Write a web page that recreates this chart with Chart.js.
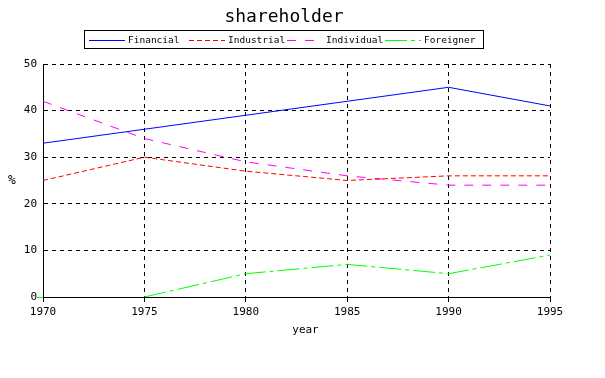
<!DOCTYPE html>
<html>
<head>
<meta charset="utf-8">
<script src="https://cdn.jsdelivr.net/npm/chart.js@4"></script>
<style>
  html, body { margin: 0; padding: 0; background: #fff; }
  #wrap { width: 605px; height: 378px; }
</style>
</head>
<body>
<div id="wrap"><canvas id="grafico" width="605" height="378"></canvas></div>
<script>
// dados
const anos = ["1970", "1975", "1980", "1985", "1990", "1995"];
const financial  = [33, 36, 39, 42, 45, 41];
const industrial = [25, 30, 27, 25, 26, 26];
const individual = [42, 34, 29, 26, 24, 24];
const foreigner  = [null, 0, 5, 7, 5, 9];
const yTicks = [0, 10, 20, 30, 40, 50];

const fonte = "'DejaVu Sans Mono', 'Liberation Mono', monospace";

// titulo, legenda com caixa e nomes dos eixos
const extras = {
    id: "extras",
    afterDraw(chart) {
        const c = chart.ctx;
        const area = chart.chartArea;
        c.save();
        c.fillStyle = "#000";
        c.textBaseline = "middle";

        c.font = "18px " + fonte;
        c.textAlign = "center";
        c.fillText("shareholder", 284, 17);

        // caixa da legenda
        c.strokeStyle = "#000";
        c.lineWidth = 1;
        c.setLineDash([]);
        c.strokeRect(84.5, 30.5, 399, 18);

        const pos = [89, 189, 287, 385];
        c.font = "9.5px " + fonte;
        c.textAlign = "left";
        chart.data.datasets.forEach((ds, i) => {
            const x = pos[i];
            c.beginPath();
            c.strokeStyle = ds.borderColor;
            c.setLineDash(ds.borderDash || []);
            c.moveTo(x, 40.5);
            c.lineTo(x + 36, 40.5);
            c.stroke();
            c.fillStyle = "#000";
            c.fillText(ds.label, x + 39, 41);
        });

        // eixo x passa um pouco a esquerda do eixo y
        c.setLineDash([]);
        c.beginPath();
        c.moveTo(37, area.bottom + 0.5);
        c.lineTo(area.left, area.bottom + 0.5);
        c.stroke();

        c.font = "13px " + fonte;
        c.textAlign = "center";
        c.fillText("%", 12, 181);
        c.font = "11px " + fonte;
        c.fillText("year", (area.left + area.right) / 2 + 9, 330);
        c.restore();
    }
};

new Chart(document.getElementById("grafico").getContext("2d"), {
    type: "line",
    data: {
        labels: anos,
        datasets: [
            { label: "Financial",  data: financial,  borderColor: "#0000ff", borderDash: [] },
            { label: "Industrial", data: industrial, borderColor: "#ff0000", borderDash: [5, 3] },
            { label: "Individual", data: individual, borderColor: "#ff00ff", borderDash: [9, 9] },
            { label: "Foreigner",  data: foreigner,  borderColor: "#00ff00", borderDash: [22, 4, 4, 4] }
        ].map(ds => Object.assign(ds, {
            borderWidth: 1,
            pointRadius: 0,
            fill: false,
            tension: 0,
            spanGaps: false
        }))
    },
    options: {
        responsive: false,
        animation: false,
        layout: { padding: { left: 0, top: 64, right: 55, bottom: 0 } },
        plugins: {
            legend: { display: false },
            title: { display: false },
            tooltip: { enabled: false }
        },
        scales: {
            x: {
                offset: false,
                afterFit: s => { s.height = 81; },
                grid: { color: "#000", drawTicks: true, tickLength: 5, offset: false },
                border: { color: "#000", width: 1, dash: [4, 4] },
                ticks: { color: "#000", font: { family: fonte, size: 11 }, padding: 4, maxRotation: 0 }
            },
            y: {
                min: 0,
                max: 50,
                afterFit: s => { s.width = 43; },
                afterBuildTicks: s => { s.ticks = yTicks.map(v => ({ value: v })); },
                grid: { color: "#000", drawTicks: false },
                border: { color: "#000", width: 1, dash: [4, 4] },
                ticks: { color: "#000", font: { family: fonte, size: 11 }, padding: 6 }
            }
        }
    },
    plugins: [extras]
});
</script>
</body>
</html>
